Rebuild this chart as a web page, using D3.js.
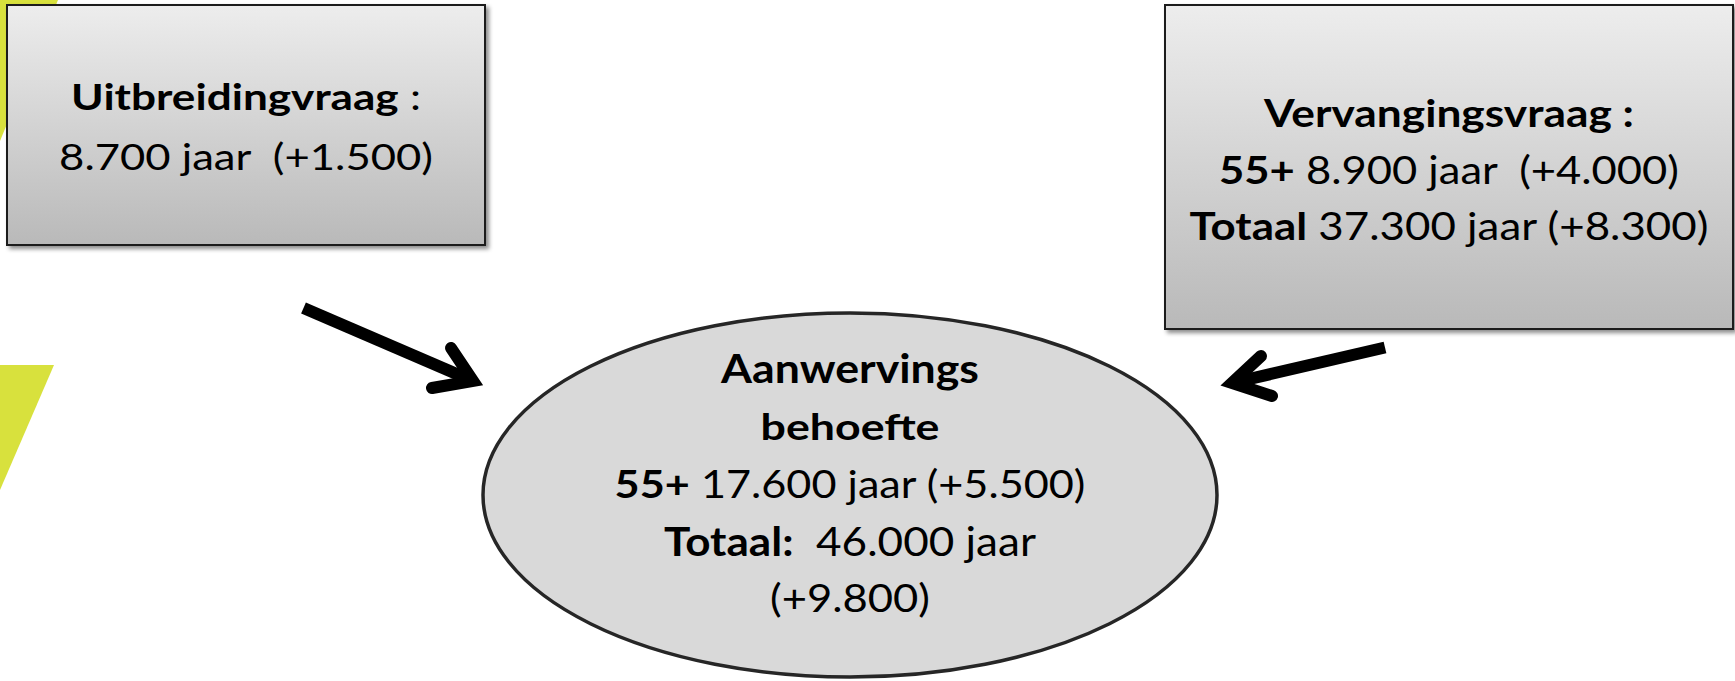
<!DOCTYPE html>
<html>
<head>
<meta charset="utf-8">
<script src="https://cdn.jsdelivr.net/npm/d3@7"></script>
<style>
  html, body { margin: 0; padding: 0; background: #ffffff; }
  svg { display: block; }
  text { font-family: Lato, "Open Sans", sans-serif; white-space: pre; fill: #000; }
</style>
</head>
<body>
<svg id="chart" width="1735" height="681"></svg>
<script>
// ---------- data ----------
const nodeTitles = ["Uitbreidingvraag", "Vervangingsvraag", "Aanwervings", "behoefte"];
const groupLabels = ["55+", "Totaal"];
const unitLabel = "jaar";
const uitbreidingValues = [8700];          // jaar
const uitbreidingChanges = [1500];
const vervangingValues = [8900, 37300];    // 55+, Totaal
const vervangingChanges = [4000, 8300];
const aanwervingValues = [17600, 46000];   // 55+, Totaal
const aanwervingChanges = [5500, 9800];

// ---------- formatting (Dutch thousands separator) ----------
const nl = d3.formatLocale({ decimal: ",", thousands: ".", grouping: [3], currency: ["€", ""] });
const fmt = nl.format(",d");
const chg = v => "(+" + fmt(v) + ")";

// text lines built from the data: arrays of [text, bold]
const leftLines = [
  [[nodeTitles[0], true], [" :", false]],
  [[fmt(uitbreidingValues[0]) + " " + unitLabel + "  " + chg(uitbreidingChanges[0]), false]]
];
const rightLines = [
  [[nodeTitles[1] + " :", true]],
  [[groupLabels[0], true], [" " + fmt(vervangingValues[0]) + " " + unitLabel + "  " + chg(vervangingChanges[0]), false]],
  [[groupLabels[1], true], [" " + fmt(vervangingValues[1]) + " " + unitLabel + " " + chg(vervangingChanges[1]), false]]
];
const centerLines = [
  [[nodeTitles[2], true]],
  [[nodeTitles[3], true]],
  [[groupLabels[0], true], [" " + fmt(aanwervingValues[0]) + " " + unitLabel + " " + chg(aanwervingChanges[0]), false]],
  [[groupLabels[1] + ":", true], ["  " + fmt(aanwervingValues[1]) + " " + unitLabel, false]],
  [[chg(aanwervingChanges[1]), false]]
];

// ---------- layout ----------
const layout = {
  leftBox:  { x: 7, y: 5, w: 478, h: 240, cx: 246,
              baselines: [110, 170], widths: [350, 374], sizes: [37, 37] },
  rightBox: { x: 1165, y: 5, w: 568, h: 324, cx: 1449,
              baselines: [127, 183.5, 240], widths: [370, 460, 519], sizes: [39, 39, 39] },
  ellipse:  { cx: 850, cy: 495, rx: 367, ry: 182,
              baselines: [383, 440, 498, 556, 612], widths: [258, 179, 471, 372, 160],
              sizes: [39.5, 36, 39, 40, 39] },
  arrows: [
    { shaft: [[303.5, 308], [473, 381]], head: [[451, 348], [473, 381], [432, 388]] },
    { shaft: [[1385, 347.5], [1232, 383]], head: [[1261, 356], [1232, 383], [1272, 396]] }
  ],
  yellow: [
    [[0, 0], [58, 0], [0, 141]],
    [[0, 365], [54, 365], [0, 490]]
  ]
};

const svg = d3.select("#chart");
const defs = svg.append("defs");

const grad = defs.append("linearGradient").attr("id", "boxGrad")
  .attr("x1", 0).attr("y1", 0).attr("x2", 0).attr("y2", 1);
grad.append("stop").attr("offset", "0%").attr("stop-color", "#ededed");
grad.append("stop").attr("offset", "100%").attr("stop-color", "#b9b9b9");

const shadow = defs.append("filter").attr("id", "shadow")
  .attr("x", "-5%").attr("y", "-5%").attr("width", "115%").attr("height", "115%");
shadow.append("feDropShadow").attr("dx", 3).attr("dy", 3).attr("stdDeviation", 2)
  .attr("flood-color", "#000").attr("flood-opacity", 0.45);

// yellow decorative shapes
svg.selectAll("polygon.yellow").data(layout.yellow).join("polygon")
  .attr("class", "yellow")
  .attr("points", d => d.map(p => p.join(",")).join(" "))
  .attr("fill", "#d8e13d");

// boxes
[layout.leftBox, layout.rightBox].forEach(b => {
  svg.append("rect")
    .attr("x", b.x).attr("y", b.y).attr("width", b.w).attr("height", b.h)
    .attr("fill", "url(#boxGrad)")
    .attr("stroke", "#1c1c1c").attr("stroke-width", 2)
    .attr("filter", "url(#shadow)");
});

// ellipse
svg.append("ellipse")
  .attr("cx", layout.ellipse.cx).attr("cy", layout.ellipse.cy)
  .attr("rx", layout.ellipse.rx).attr("ry", layout.ellipse.ry)
  .attr("fill", "#d9d9d9").attr("stroke", "#262626").attr("stroke-width", 3.5);

// arrows
const line = d3.line();
layout.arrows.forEach(a => {
  svg.append("path").attr("d", line(a.shaft))
    .attr("fill", "none").attr("stroke", "#000").attr("stroke-width", 12)
    .attr("stroke-linecap", "butt");
  svg.append("path").attr("d", line(a.head))
    .attr("fill", "none").attr("stroke", "#000").attr("stroke-width", 12)
    .attr("stroke-linecap", "round").attr("stroke-linejoin", "miter");
});

// text blocks, each line stretched to the reference width
function drawLines(lines, spec) {
  lines.forEach((segs, i) => {
    const g = svg.append("g");
    const t = g.append("text")
      .attr("x", 0).attr("y", 0)
      .attr("text-anchor", "middle")
      .attr("font-size", spec.sizes[i]);
    segs.forEach(([s, bold]) => {
      t.append("tspan").text(s).attr("font-weight", bold ? 700 : 400);
    });
    const w = t.node().getComputedTextLength();
    const sx = spec.widths[i] / w;
    g.attr("transform", `translate(${spec.cx},${spec.baselines[i]}) scale(${sx},1)`);
  });
}
drawLines(leftLines, layout.leftBox);
drawLines(rightLines, layout.rightBox);
drawLines(centerLines, layout.ellipse);
</script>
</body>
</html>
